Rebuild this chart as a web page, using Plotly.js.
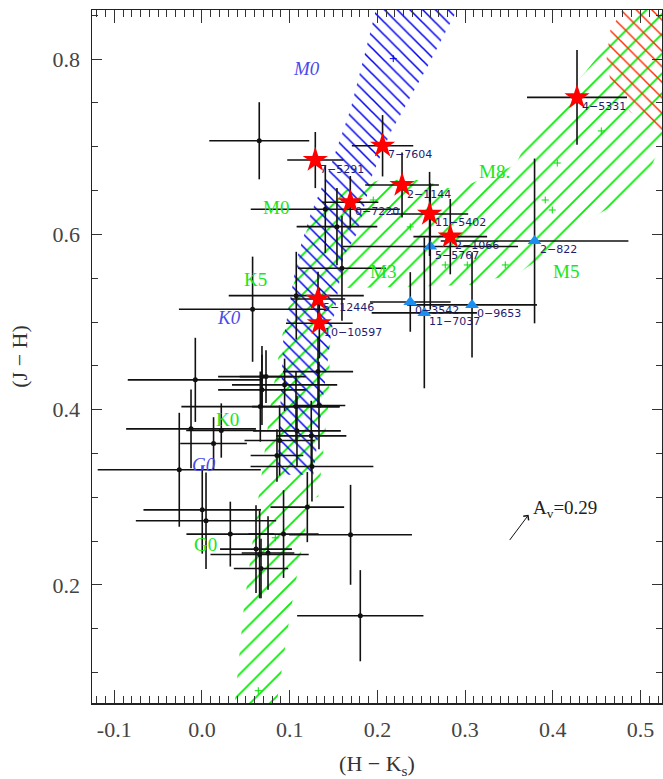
<!DOCTYPE html>
<html>
<head>
<meta charset="utf-8">
<script src="https://cdn.plot.ly/plotly-3.0.1.min.js"></script>
<style>
  html, body { margin: 0; padding: 0; background: #fff; }
  #plot { width: 663px; height: 779px; }
</style>
</head>
<body>
<div id="plot"></div>
<script>
// ---- Field sources (black points with errors) ----
const fieldX    = [0.0653, 0.1406, 0.1539, 0.1596, 0.1075, 0.0577, 0.1323, -0.0076, 0.0684, 0.0730,
                   0.0684, 0.0942, 0.0665, 0.1334, 0.1072, -0.0125, 0.0220, 0.0132, -0.0259, 0.1083,
                   0.1246, 0.0885, 0.0855, 0.1254, 0.0003, 0.0046, 0.0323, 0.1201, 0.0930, 0.1694,
                   0.0616, 0.0657, 0.0753, 0.0673, 0.1805];
const fieldY    = [0.7068, 0.6286, 0.6088, 0.5613, 0.5301, 0.5146, 0.4434, 0.4340, 0.4377, 0.4377,
                   0.4226, 0.4283, 0.4035, 0.4047, 0.4035, 0.3781, 0.3762, 0.3614, 0.3314, 0.3758,
                   0.3701, 0.3648, 0.3477, 0.3351, 0.2857, 0.2732, 0.2580, 0.2888, 0.2580, 0.2572,
                   0.2409, 0.2348, 0.2364, 0.2188, 0.1649];
const fieldXErr = [0.057, 0.085, 0.046, 0.050, 0.077, 0.084, 0.040, 0.077, 0.050, 0.030,
                   0.050, 0.060, 0.090, 0.030, 0.050, 0.074, 0.040, 0.038, 0.093, 0.050,
                   0.040, 0.040, 0.030, 0.070, 0.067, 0.080, 0.050, 0.042, 0.040, 0.070,
                   0.041, 0.056, 0.030, 0.031, 0.072];
const fieldYErr = [0.044, 0.050, 0.044, 0.060, 0.050, 0.060, 0.040, 0.048, 0.035, 0.030,
                   0.040, 0.030, 0.040, 0.050, 0.040, 0.045, 0.031, 0.030, 0.065, 0.040,
                   0.040, 0.040, 0.030, 0.040, 0.050, 0.055, 0.037, 0.040, 0.050, 0.057,
                   0.050, 0.050, 0.042, 0.034, 0.052];

// ---- Named sources: red stars ----
const starNames = ['4−5331', '7−7604', '7−5291', '2−1144', '0−7220', '11−5402', '2−1066', '5−12446', '10−10597'];
const starX     = [0.4276, 0.2059, 0.1292, 0.2281, 0.1691, 0.2595, 0.2831, 0.1323, 0.1338];
const starY     = [0.7563, 0.7011, 0.6848, 0.6563, 0.6366, 0.6233, 0.5974, 0.5263, 0.4986];
const starXErr  = [0.057, 0.035, 0.032, 0.042, 0.032, 0.044, 0.042, 0.031, 0.038];
const starYErr  = [0.054, 0.035, 0.032, 0.037, 0.030, 0.048, 0.043, 0.031, 0.040];

// ---- Named sources: blue triangles ----
const triNames = ['5−5767', '2−822', '0−3542', '11−7037', '0−9653'];
const triX     = [0.2603, 0.3792, 0.2375, 0.2535, 0.3079];
const triY     = [0.5862, 0.5925, 0.5229, 0.5104, 0.5195];
const triXErr  = [0.100, 0.107, 0.046, 0.060, 0.074];
const triYErr  = [0.072, 0.094, 0.034, 0.086, 0.060];

// ---- Dwarf locus region (green hatch) ----
const dwarfX = [0.036, 0.0471, 0.0619, 0.0688, 0.0779, 0.0904, 0.1075, 0.1155, 0.1258, 0.1406,
                0.1634, 0.2033, 0.2489, 0.2889, 0.3572, 0.3802, 0.4087, 0.4372, 0.4656, 0.4861,
                0.4941, 0.534, 0.534, 0.526, 0.4998, 0.4542, 0.4087, 0.3859, 0.3630, 0.3059,
                0.2261, 0.1634, 0.1497, 0.1463, 0.1440, 0.1326, 0.1238, 0.1007, 0.0870, 0.0824];
const dwarfY = [0.050, 0.1683, 0.2823, 0.3314, 0.4032, 0.4796, 0.5560, 0.5936, 0.6221, 0.6415,
                0.6506, 0.6620, 0.6620, 0.6506, 0.6791, 0.7247, 0.7532, 0.7852, 0.8216, 0.8558,
                0.8673, 0.8673, 0.7133, 0.7076, 0.6506, 0.6243, 0.5901, 0.5730, 0.5571, 0.5423,
                0.5400, 0.5389, 0.5252, 0.4796, 0.4032, 0.3006, 0.2977, 0.1683, 0.0771, 0.0463];

// ---- Giant branch region (blue hatch) ----
const giantX = [0.0859, 0.0927, 0.1087, 0.1235, 0.1463, 0.1691, 0.1896, 0.2010, 0.2968,
                0.2569, 0.2147, 0.1942, 0.1771, 0.1611, 0.1463, 0.1269];
const giantY = [0.3257, 0.4796, 0.5743, 0.6221, 0.6769, 0.7418, 0.8216, 0.8673, 0.8673,
                0.7909, 0.7157, 0.6677, 0.6016, 0.5743, 0.4796, 0.3257];

// ---- Late-M region (red hatch) ----
const lateX = [0.4861, 0.4656, 0.4611, 0.4679, 0.4884, 0.526, 0.534, 0.534];
const lateY = [0.8673, 0.8330, 0.7988, 0.7646, 0.7395, 0.7167, 0.7133, 0.8673];

// ---- Locus reference points ----
const dwarfPtX = [0.1953, 0.2375, 0.4051, 0.3914, 0.3994, 0.4553, 0.2774, 0.3025, 0.3458, 0.0836, 0.0642];
const dwarfPtY = [0.6392, 0.6085, 0.6814, 0.6392, 0.6278, 0.7180, 0.5651, 0.5651, 0.5651, 0.2538, 0.0793];
const giantPtX = [0.2181];
const giantPtY = [0.8005];

// ---- Spectral type labels ----
const dwarfTypes  = ['M0', 'K5', 'K0', 'G0', 'M3', 'M5', 'M8.'];
const dwarfTypeX  = [0.0847, 0.0608, 0.0288, 0.0038, 0.2067, 0.4154, 0.3332];
const dwarfTypeY  = [0.6312, 0.5480, 0.3884, 0.2459, 0.5571, 0.5571, 0.6723];
const giantTypes  = ['M0', 'K0', 'G0'];
const giantTypeX  = [0.1190, 0.0311, 0.0026];
const giantTypeY  = [0.7897, 0.5047, 0.3371];

// ---- Reddening vector ----
const avLabel = 'A<sub>v</sub>=0.29';
const avTail  = [0.3496, 0.2496];
const avHead  = [0.3724, 0.2800];

// ---- Axis ticks ----
const xTicks = [-0.1, 0.0, 0.1, 0.2, 0.3, 0.4, 0.5];
const xTickText = ['-0.1', '0.0', '0.1', '0.2', '0.3', '0.4', '0.5'];
const yTicks = [0.2, 0.4, 0.6, 0.8];
const yTickText = ['0.2', '0.4', '0.6', '0.8'];

const serif = 'Liberation Serif, Times New Roman, serif';
const ink = '#111';

function hatch(x, y, shape, color, size, solidity) {
  return {
    x: x, y: y, type: 'scatter', mode: 'none', fill: 'toself',
    fillcolor: 'rgba(0,0,0,0)',
    fillpattern: { shape: shape, fgcolor: color, bgcolor: 'rgba(0,0,0,0)', size: size, solidity: solidity },
    hoverinfo: 'skip'
  };
}

function errs(arr) {
  return { type: 'data', array: arr, visible: true, color: ink, thickness: 1.6, width: 0 };
}

const traces = [
  hatch(dwarfX, dwarfY, '/', '#00ee00', 14, 0.13),
  hatch(giantX, giantY, '\\', '#0000ee', 9, 0.17),
  hatch(lateX, lateY, '\\', '#ff2a00', 11, 0.13),
  { x: dwarfPtX, y: dwarfPtY, type: 'scatter', mode: 'markers',
    marker: { symbol: 'cross-thin', size: 5, line: { color: '#00dd00', width: 1 } }, hoverinfo: 'skip' },
  { x: giantPtX, y: giantPtY, type: 'scatter', mode: 'markers',
    marker: { symbol: 'cross-thin', size: 5, line: { color: '#0000ee', width: 1 } }, hoverinfo: 'skip' },
  { x: fieldX, y: fieldY, type: 'scatter', mode: 'markers',
    marker: { color: ink, size: 5 },
    error_x: errs(fieldXErr), error_y: errs(fieldYErr) },
  { x: triX, y: triY, type: 'scatter', mode: 'markers',
    marker: { symbol: 'triangle-up', color: '#1b8ff0', size: 12 },
    error_x: errs(triXErr), error_y: errs(triYErr) },
  { x: starX, y: starY, type: 'scatter', mode: 'markers',
    marker: { symbol: 'star', color: '#ff0000', size: 19 },
    error_x: errs(starXErr), error_y: errs(starYErr) }
];

const annotations = [];
function nameLabels(names, xs, ys) {
  names.forEach((n, i) => annotations.push({
    x: xs[i], y: ys[i], xref: 'x', yref: 'y', text: n, showarrow: false,
    xanchor: 'left', yanchor: 'middle', xshift: 4, yshift: -9, borderpad: 0,
    font: { family: 'DejaVu Sans, sans-serif', size: 11, color: '#1c1c70' }
  }));
}
nameLabels(starNames, starX, starY);
nameLabels(triNames, triX, triY);

dwarfTypes.forEach((t, i) => annotations.push({
  x: dwarfTypeX[i], y: dwarfTypeY[i], xref: 'x', yref: 'y', text: t, showarrow: false,
  xanchor: 'center', yanchor: 'middle',
  font: { family: serif, size: 19, color: '#19e619' }
}));
giantTypes.forEach((t, i) => annotations.push({
  x: giantTypeX[i], y: giantTypeY[i], xref: 'x', yref: 'y', text: '<i>' + t + '</i>', showarrow: false,
  xanchor: 'center', yanchor: 'middle',
  font: { family: serif, size: 19, color: '#4a4aec' }
}));

annotations.push({
  x: avHead[0], y: avHead[1], ax: avTail[0], ay: avTail[1], xref: 'x', yref: 'y', axref: 'x', ayref: 'y',
  text: '', showarrow: true, arrowhead: 4, arrowsize: 1.3, arrowwidth: 1, arrowcolor: ink, standoff: 0
});
annotations.push({
  x: avHead[0], y: avHead[1], xref: 'x', yref: 'y', text: avLabel, showarrow: false,
  xanchor: 'left', yanchor: 'middle', xshift: 2, yshift: 6,
  font: { family: serif, size: 19, color: '#222' }
});

const axisCommon = {
  showline: true, linecolor: '#222', linewidth: 1.5, mirror: 'allticks',
  showgrid: false, zeroline: false, ticks: 'inside', tickcolor: '#333', tickwidth: 1,
  tickfont: { family: serif, size: 22, color: '#444' }
};

const layout = {
  width: 663, height: 779,
  margin: { l: 92, r: 1, t: 10, b: 76 },
  paper_bgcolor: '#fff', plot_bgcolor: '#fff',
  showlegend: false,
  xaxis: Object.assign({}, axisCommon, {
    range: [-0.1254, 0.5245], tickmode: 'array', tickvals: xTicks, ticktext: xTickText,
    ticklen: 13,
    minor: { tickmode: 'linear', tick0: 0, dtick: 0.01, ticks: 'inside', ticklen: 7, tickcolor: '#333', tickwidth: 1 },
    ticklabelstandoff: 6,
    title: { text: '(H − K<sub>s</sub>)', font: { family: serif, size: 22, color: '#333' }, standoff: 21 }
  }),
  yaxis: Object.assign({}, axisCommon, {
    range: [0.0653, 0.856], tickmode: 'array', tickvals: yTicks, ticktext: yTickText,
    ticklen: 10,
    minor: { tickmode: 'linear', tick0: 0, dtick: 0.05, ticks: 'inside', ticklen: 6, tickcolor: '#333', tickwidth: 1 },
    ticklabelstandoff: 6,
    title: { text: '(J − H)', font: { family: serif, size: 22, color: '#333' }, standoff: 19 }
  }),
  annotations: annotations
};

Plotly.newPlot('plot', traces, layout, { staticPlot: true, displayModeBar: false });
</script>
</body>
</html>
